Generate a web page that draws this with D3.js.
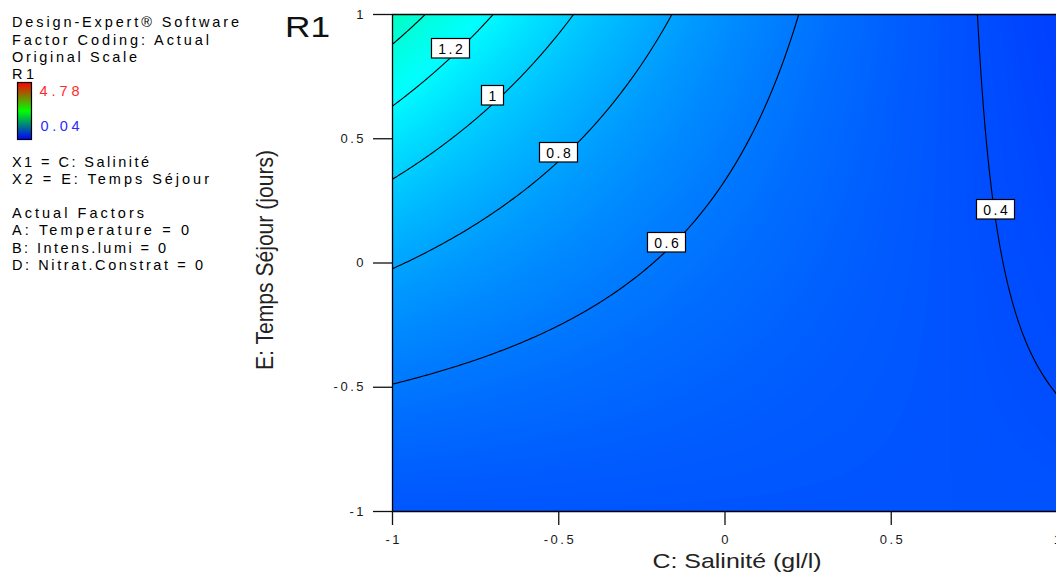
<!DOCTYPE html>
<html><head><meta charset="utf-8">
<script src="https://cdn.jsdelivr.net/npm/d3@7"></script>
<style>
html,body{margin:0;padding:0;background:#fff;}
svg{display:block;font-family:"Liberation Sans",Arial,sans-serif;}
</style></head><body>
<svg id="chart" width="1056" height="574"></svg>
<script>
// ---------------- data ----------------
const xTicks = [-1, -0.5, 0, 0.5, 1];
const xTickLabels = ["-1", "-0.5", "0", "0.5", "1"];
const yTicks = [-1, -0.5, 0, 0.5, 1];
const yTickLabels = ["-1", "-0.5", "0", "0.5", "1"];
const contourLevels = [0.4, 0.6, 0.8, 1, 1.2, 1.4];
const labelLevels = [1.2, 1, 0.8, 0.6, 0.4];
const labelTexts = ["1.2", "1", "0.8", "0.6", "0.4"];
const labelAnchorC = [-0.826, -0.699, -0.500, -0.177, 0.815];
// fitted response surface, ln(R1) in coded factors C (Salinité) and E (Temps Séjour)
const modelTerms = ["Intercept", "C", "E", "CE"];
const modelCoefs = [-0.593, -0.386, 0.251, -0.369];
const colorRange = [0.04, 4.78];
const colorRangeLabels = ["4.78", "0.04"];
const headerLines = ["Design-Expert® Software", "Factor Coding: Actual", "Original Scale", "R1"];
const factorLines = ["X1 = C: Salinité", "X2 = E: Temps Séjour"];
const actualLines = ["Actual Factors", "A: Temperature = 0", "B: Intens.lumi = 0", "D: Nitrat.Constrat = 0"];
const chartTitle = "R1";
const xTitle = "C: Salinité (gl/l)";
const yTitle = "E: Temps Séjour (jours)";

// ---------------- layout ----------------
const plot = {left: 392, right: 1057, top: 14, bottom: 511};
const svg = d3.select("#chart");
const x = d3.scaleLinear().domain([-1, 1]).range([plot.left, plot.right]);
const y = d3.scaleLinear().domain([-1, 1]).range([plot.bottom, plot.top]);
const FONT = '"Liberation Sans", Arial, sans-serif';

const defs = svg.append("defs");
defs.append("clipPath").attr("id", "clipPlot").append("rect")
  .attr("x", plot.left).attr("y", plot.top)
  .attr("width", plot.right - plot.left).attr("height", plot.bottom - plot.top);
defs.append("clipPath").attr("id", "clipInner").append("rect")
  .attr("x", plot.left + 1).attr("y", plot.top + 1)
  .attr("width", plot.right - plot.left - 2).attr("height", plot.bottom - plot.top - 2);

// response surface grid
function lnR(c, e) {
  return modelCoefs[0] + modelCoefs[1] * c + modelCoefs[2] * e + modelCoefs[3] * c * e;
}
const nx = 266, ny = 199;
const grid = new Float64Array(nx * ny);
for (let j = 0; j < ny; j++) {
  const e = 1 - 2 * (j + 0.5) / ny;
  for (let i = 0; i < nx; i++) {
    const c = -1 + 2 * (i + 0.5) / nx;
    grid[j * nx + i] = Math.exp(lnR(c, e));
  }
}
const proj = d3.geoTransform({
  point(px, py) { this.stream.point(x(-1 + 2 * px / nx), y(1 - 2 * py / ny)); }
});
const path = d3.geoPath(proj);

const [lo, hi] = colorRange;
const color = d3.scaleLinear()
  .domain(d3.range(5).map(k => lo + k * (hi - lo) / 4))
  .range(["#0000ff", "#00ffff", "#00ff00", "#ffff00", "#ff0000"])
  .clamp(true);

// filled gradient bands
const ext = d3.extent(grid);
const step = 0.005;
const bandT = d3.range(Math.floor(ext[0] / step) * step, ext[1], step);
const bands = d3.contours().size([nx, ny]).thresholds(bandT)(grid);
svg.append("g").attr("clip-path", "url(#clipPlot)")
  .selectAll("path").data(bands).join("path")
  .attr("d", path)
  .attr("fill", d => color(d.value + step / 2))
  .attr("stroke", d => color(d.value + step / 2))
  .attr("stroke-width", 0.6);

// contour lines
const lines = d3.contours().size([nx, ny]).thresholds(contourLevels)(grid);
svg.append("g").attr("clip-path", "url(#clipInner)")
  .selectAll("path").data(lines).join("path")
  .attr("d", path)
  .attr("fill", "none")
  .attr("stroke", "#000")
  .attr("stroke-width", 1.1);

// contour labels
const lab = svg.append("g");
labelLevels.forEach((lv, k) => {
  const c = labelAnchorC[k];
  const e = (Math.log(lv) - modelCoefs[0] - modelCoefs[1] * c) / (modelCoefs[2] + modelCoefs[3] * c);
  const px = x(c), py = y(e);
  const gL = lab.append("g");
  const rect = gL.append("rect");
  const t = gL.append("text").text(labelTexts[k])
    .attr("font-family", FONT).attr("font-size", 14)
    .attr("letter-spacing", 2.5).attr("fill", "#000");
  const len = t.node().getComputedTextLength();
  const vis = len - 2.5;
  const w = Math.round(vis + 14);
  const bx = Math.round(px - w / 2) + 0.5, by = Math.round(py - 20) + 0.5;
  rect.attr("x", bx).attr("y", by).attr("width", w).attr("height", 19.5)
    .attr("fill", "#fff").attr("stroke", "#000").attr("stroke-width", 1.2);
  t.attr("x", bx + (w - vis) / 2).attr("y", by + 15);
});

// frame top
svg.append("line").attr("x1", plot.left).attr("x2", plot.right)
  .attr("y1", plot.top + 0.5).attr("y2", plot.top + 0.5)
  .attr("stroke", "#000").attr("stroke-width", 1.3);

// axes
const yAxis = d3.axisLeft(y).tickValues(yTicks)
  .tickFormat((d, i) => yTickLabels[i]).tickSize(19).tickSizeOuter(0).tickPadding(7);
const gy = svg.append("g").attr("transform", `translate(${plot.left},0)`).call(yAxis);
const xAxis = d3.axisBottom(x).tickValues(xTicks)
  .tickFormat((d, i) => xTickLabels[i]).tickSize(14).tickSizeOuter(0).tickPadding(10);
const gx = svg.append("g").attr("transform", `translate(0,${plot.bottom})`).call(xAxis);
[gx, gy].forEach(g => {
  g.attr("font-family", FONT).attr("font-size", 13);
  g.select(".domain").attr("stroke", "#000").attr("stroke-width", 1.3);
  g.selectAll(".tick line").attr("stroke", "#111").attr("stroke-width", 1.3);
  g.selectAll(".tick text").attr("fill", "#1a1a1a").attr("letter-spacing", 2.5);
});
gx.selectAll(".tick text").attr("dx", 1.2);

// titles
svg.append("text").text(chartTitle).attr("x", 285).attr("y", 37)
  .attr("font-family", FONT).attr("font-size", 29).attr("fill", "#111")
  .attr("textLength", 45).attr("lengthAdjust", "spacingAndGlyphs");
svg.append("text").text(xTitle)
  .attr("x", 737).attr("y", 568).attr("text-anchor", "middle")
  .attr("font-family", FONT).attr("font-size", 21).attr("fill", "#222")
  .attr("textLength", 169).attr("lengthAdjust", "spacingAndGlyphs");
svg.append("text").text(yTitle)
  .attr("transform", "translate(273,260) rotate(-90)").attr("text-anchor", "middle")
  .attr("font-family", FONT).attr("font-size", 24).attr("fill", "#222")
  .attr("textLength", 220).attr("lengthAdjust", "spacingAndGlyphs");

// info panel
const info = svg.append("g").attr("font-family", FONT).attr("font-size", 14.5).attr("fill", "#000");
const headerY = [27.3, 44.5, 61.8, 79], headerW = [227, 197, 125, 22];
headerLines.forEach((s, i) => info.append("text").text(s).attr("x", 12).attr("y", headerY[i])
  .attr("textLength", headerW[i]).attr("lengthAdjust", "spacing"));
const factorY = [166.7, 184], factorW = [137, 197];
factorLines.forEach((s, i) => info.append("text").text(s).attr("x", 12).attr("y", factorY[i])
  .attr("textLength", factorW[i]).attr("lengthAdjust", "spacing"));
const actualY = [218.3, 235.3, 252.5, 270], actualW = [132, 177, 154, 191];
actualLines.forEach((s, i) => info.append("text").text(s).attr("x", 12).attr("y", actualY[i])
  .attr("textLength", actualW[i]).attr("lengthAdjust", "spacing"));

// colour bar
const grad = defs.append("linearGradient").attr("id", "cbar")
  .attr("x1", 0).attr("y1", 0).attr("x2", 0).attr("y2", 1);
[["0%", "#ff0000"], ["50%", "#00ff00"], ["100%", "#0000ff"]].forEach(([o, c]) =>
  grad.append("stop").attr("offset", o).attr("stop-color", c));
svg.append("rect").attr("x", 17.5).attr("y", 82.5).attr("width", 14).attr("height", 57)
  .attr("fill", "url(#cbar)").attr("stroke", "#000").attr("stroke-width", 1.2);
info.append("text").text(colorRangeLabels[0]).attr("x", 39.5).attr("y", 95.7)
  .attr("fill", "#ff2a2a").attr("textLength", 40).attr("lengthAdjust", "spacing");
info.append("text").text(colorRangeLabels[1]).attr("x", 40.5).attr("y", 130.5)
  .attr("fill", "#2a2aff").attr("textLength", 39).attr("lengthAdjust", "spacing");
</script>
</body></html>
